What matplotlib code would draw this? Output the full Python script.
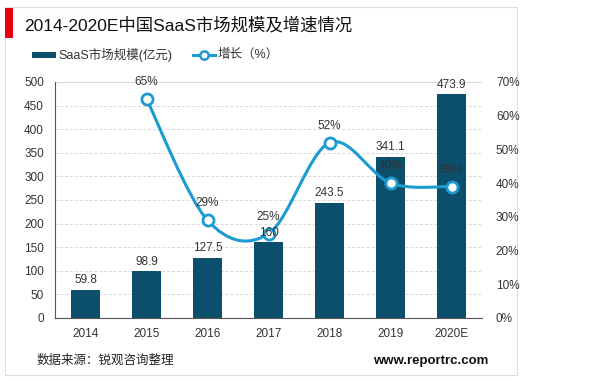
import matplotlib
matplotlib.use("Agg")
import matplotlib.pyplot as plt
from matplotlib.path import Path
from matplotlib.patches import PathPatch, Rectangle
from matplotlib.ticker import FuncFormatter
import numpy as np

plt.rcParams['font.family'] = ['Liberation Sans', 'Noto Sans CJK SC', 'DejaVu Sans']

years = ['2014', '2015', '2016', '2017', '2018', '2019', '2020E']
market_size = [59.8, 98.9, 127.5, 160, 243.5, 341.1, 473.9]
growth_years = ['2015', '2016', '2017', '2018', '2019', '2020E']
growth_pct = [65, 29, 25, 52, 40, 39]

bar_color = '#0b4f6c'
line_color = '#1b9bd1'
text_color = '#333333'

fig = plt.figure(figsize=(6.0, 3.81), dpi=100)

# card background with light border (behind everything)
card = Rectangle((5 / 600, 6 / 381), 512 / 600, 368 / 381, transform=fig.transFigure,
                 facecolor='white', edgecolor='#dddddd', linewidth=0.8, zorder=-10)
fig.patches.append(card)
# red marker to the left of the title
fig.patches.append(Rectangle((5 / 600, 1 - 38 / 381), 8 / 600, 30 / 381,
                             transform=fig.transFigure, facecolor='#e60012', edgecolor='none',
                             zorder=-5))
fig.text(24 / 600, 1 - 25 / 381, '2014-2020E中国SaaS市场规模及增速情况',
         fontsize=12.5, color='#111111', va='center', ha='left')

ax = fig.add_axes([55 / 600, 63 / 381, 427 / 600, 236 / 381])
ax.patch.set_alpha(0)
x = np.arange(len(years))
ax.bar(x, market_size, width=0.48, color=bar_color, zorder=2)

ax.set_xlim(-0.5, len(years) - 0.5)
ax.set_ylim(0, 500)
ax.set_yticks(range(0, 501, 50))
ax.set_xticks(x)
ax.set_xticklabels(years)
ax.tick_params(axis='both', length=0, labelsize=8.5, colors=text_color)
ax.tick_params(axis='x', pad=7)
ax.tick_params(axis='y', pad=8)
for yv in range(50, 451, 50):
    ax.axhline(yv, color='#d9d9d9', linewidth=0.7, linestyle=(0, (3, 2)), zorder=0)
ax.axhline(500, color='#d9d9d9', linewidth=0.8, zorder=0)
for s in ['top', 'right']:
    ax.spines[s].set_visible(False)
ax.spines['left'].set_color('#555555')
ax.spines['bottom'].set_color('#555555')

ax2 = ax.twinx()
ax2.set_ylim(0, 70)
ax2.set_yticks(range(0, 71, 10))
ax2.yaxis.set_major_formatter(FuncFormatter(lambda v, p: f'{v:.0f}%'))
ax2.tick_params(axis='y', length=0, labelsize=8.5, colors=text_color, pad=10)
for s in ['top', 'right', 'left', 'bottom']:
    ax2.spines[s].set_visible(False)

# smooth curve through the growth points (Catmull-Rom as cubic Bezier)
gx = np.array([years.index(g) for g in growth_years], dtype=float)
gy = np.array(growth_pct, dtype=float)
pts = np.column_stack([gx, gy])
ext = np.vstack([pts[0], pts, pts[-1]])
verts = [tuple(pts[0])]
codes = [Path.MOVETO]
t = 0.5
for i in range(1, len(ext) - 2):
    p0, p1, p2, p3 = ext[i - 1], ext[i], ext[i + 1], ext[i + 2]
    c1 = p1 + (p2 - p0) * t / 3
    c2 = p2 - (p3 - p1) * t / 3
    verts += [tuple(c1), tuple(c2), tuple(p2)]
    codes += [Path.CURVE4] * 3
ax2.add_patch(PathPatch(Path(verts, codes), facecolor='none', edgecolor=line_color,
                        linewidth=2.2, zorder=3))
ax2.plot(gx, gy, linestyle='none', marker='o', markersize=8, markerfacecolor='white',
         markeredgecolor=line_color, markeredgewidth=2, zorder=4)
for xi, v in zip(gx, gy):
    ax2.text(xi, v + 3.2, f'{v:.0f}%', ha='center', va='bottom', fontsize=8.5,
             color=text_color, zorder=5)

# bar value labels go on top of the line layer
for xi, v in zip(x, market_size):
    ax2.text(xi, v + 8, f'{v:g}', ha='center', va='bottom', fontsize=8.5,
             color=text_color, zorder=6, transform=ax.transData)

# legend drawn by hand at the top
ly = 1 - 55 / 381
fig.patches.append(Rectangle((32 / 600, ly - 3 / 381), 24 / 600, 6 / 381,
                             transform=fig.transFigure, facecolor=bar_color, edgecolor='none'))
fig.text(58 / 600, ly, 'SaaS市场规模(亿元)', fontsize=9, va='center', ha='left', color=text_color)
fig.lines.append(plt.Line2D([193 / 600, 215 / 600], [ly, ly], transform=fig.transFigure,
                            color=line_color, linewidth=2.2))
fig.lines.append(plt.Line2D([204 / 600], [ly], transform=fig.transFigure, linestyle='none',
                            marker='o', markersize=6, markerfacecolor='white',
                            markeredgecolor=line_color, markeredgewidth=1.8))
fig.text(218 / 600, ly, '增长（%）', fontsize=9, va='center', ha='left', color=text_color)

fig.text(37 / 600, 1 - 361 / 381, '数据来源：锐观咨询整理', fontsize=9, va='center',
         ha='left', color='#222222')
fig.text(488 / 600, 1 - 361 / 381, 'www.reportrc.com', fontsize=9.5, fontweight='bold',
         va='center', ha='right', color='#111111')

fig.savefig('out.png', dpi=100)
